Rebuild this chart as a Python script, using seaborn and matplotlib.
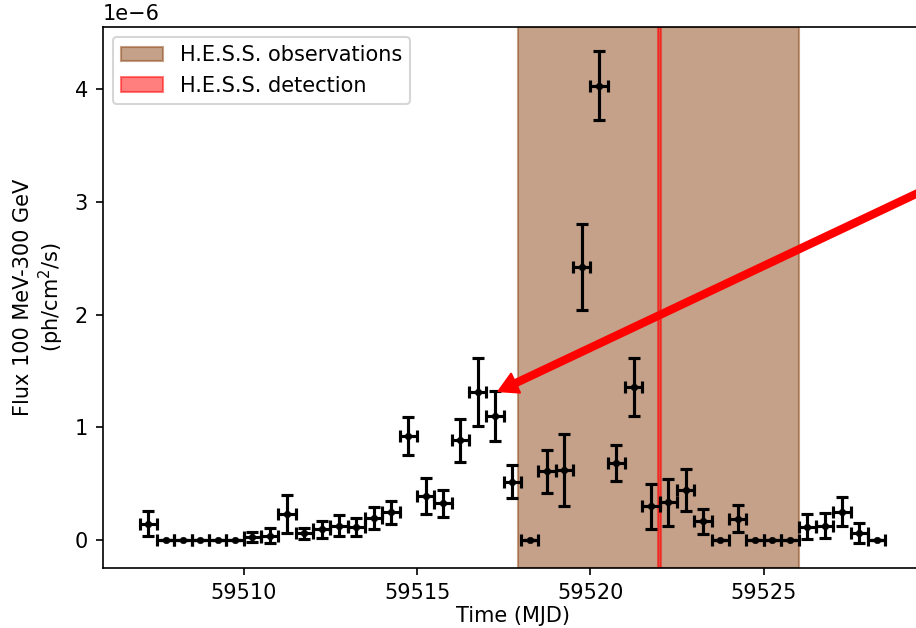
import numpy as np
import pandas as pd
import matplotlib
matplotlib.use("Agg")
import matplotlib.pyplot as plt
import seaborn as sns

# ========== data (flux in units of 1e-6 ph/cm^2/s) ==========
mjd = [59507.25, 59507.75, 59508.25, 59508.75, 59509.25, 59509.75,
       59510.25, 59510.75, 59511.25, 59511.75, 59512.25, 59512.75,
       59513.25, 59513.75, 59514.25, 59514.75, 59515.25, 59515.75,
       59516.25, 59516.75, 59517.25, 59517.75, 59518.25, 59518.75,
       59519.25, 59519.75, 59520.25, 59520.75, 59521.25, 59521.75,
       59522.25, 59522.75, 59523.25, 59523.75, 59524.25, 59524.75,
       59525.25, 59525.75, 59526.25, 59526.75, 59527.25, 59527.75,
       59528.25]
flux = [0.142, 0.0, 0.0, 0.0, 0.0, 0.0,
        0.024, 0.035, 0.231, 0.059, 0.095, 0.127,
        0.118, 0.195, 0.245, 0.923, 0.393, 0.325,
        0.884, 1.31, 1.10, 0.515, 0.0, 0.609,
        0.621, 2.42, 4.031, 0.683, 1.358, 0.299,
        0.334, 0.444, 0.163, 0.0, 0.186, 0.0,
        0.0, 0.0, 0.118, 0.127, 0.251, 0.059,
        0.0]
flux_err = [0.11, 0.0, 0.0, 0.0, 0.0, 0.0,
            0.045, 0.067, 0.17, 0.05, 0.075, 0.097,
            0.08, 0.095, 0.10, 0.17, 0.16, 0.12,
            0.19, 0.30, 0.22, 0.147, 0.0, 0.19,
            0.32, 0.38, 0.306, 0.163, 0.26, 0.20,
            0.21, 0.185, 0.11, 0.0, 0.12, 0.0,
            0.0, 0.0, 0.11, 0.107, 0.13, 0.087,
            0.0]
bin_half = 0.25  # half-day bins

hess_obs = (59517.9, 59526.0)
hess_det = (59521.96, 59522.04)
arrow_tip = (59517.35, 1.32e-6)
arrow_tail = (59532.0, 3.45e-6)

df = pd.DataFrame({"mjd": mjd,
                   "flux": np.array(flux) * 1e-6,
                   "err": np.array(flux_err) * 1e-6})

# ========== style ==========
sns.set_style("ticks", rc={"axes.edgecolor": "black", "xtick.color": "black",
                           "ytick.color": "black", "text.color": "black",
                           "axes.labelcolor": "black"})
plt.rcParams["font.family"] = ["DejaVu Sans"]

dpi = 150
fig = plt.figure(figsize=(916 / dpi, 628 / dpi), dpi=dpi)
# the original image is cropped on the right, so the axes run past the figure edge
ax = fig.add_axes([0.112, 0.0955, 0.896, 0.862])

ax.axvspan(*hess_obs, color="saddlebrown", alpha=0.5, label="H.E.S.S. observations")
ax.axvspan(*hess_det, color="red", alpha=0.5, label="H.E.S.S. detection")

ax.errorbar(df["mjd"], df["flux"], xerr=bin_half, yerr=df["err"], fmt="none",
            ecolor="black", elinewidth=1.5, capsize=3, capthick=1.5, zorder=3)
sns.scatterplot(data=df, x="mjd", y="flux", ax=ax, color="black",
                edgecolor="black", s=10, zorder=4, legend=False)

ax.annotate("", xy=arrow_tip, xytext=arrow_tail,
            arrowprops=dict(facecolor="red", edgecolor="red", width=3,
                            headwidth=10, headlength=9),
            annotation_clip=False)

ax.set_xlim(59505.93, 59529.6)
ax.set_ylim(-0.25e-6, 4.555e-6)
ax.set_xlabel("Time (MJD)", labelpad=1.5)
ax.set_ylabel("Flux 100 MeV-300 GeV\n(ph/cm$^2$/s)")
ax.legend(loc="upper left")

fig.savefig("out.png", dpi=dpi)
plt.close(fig)
